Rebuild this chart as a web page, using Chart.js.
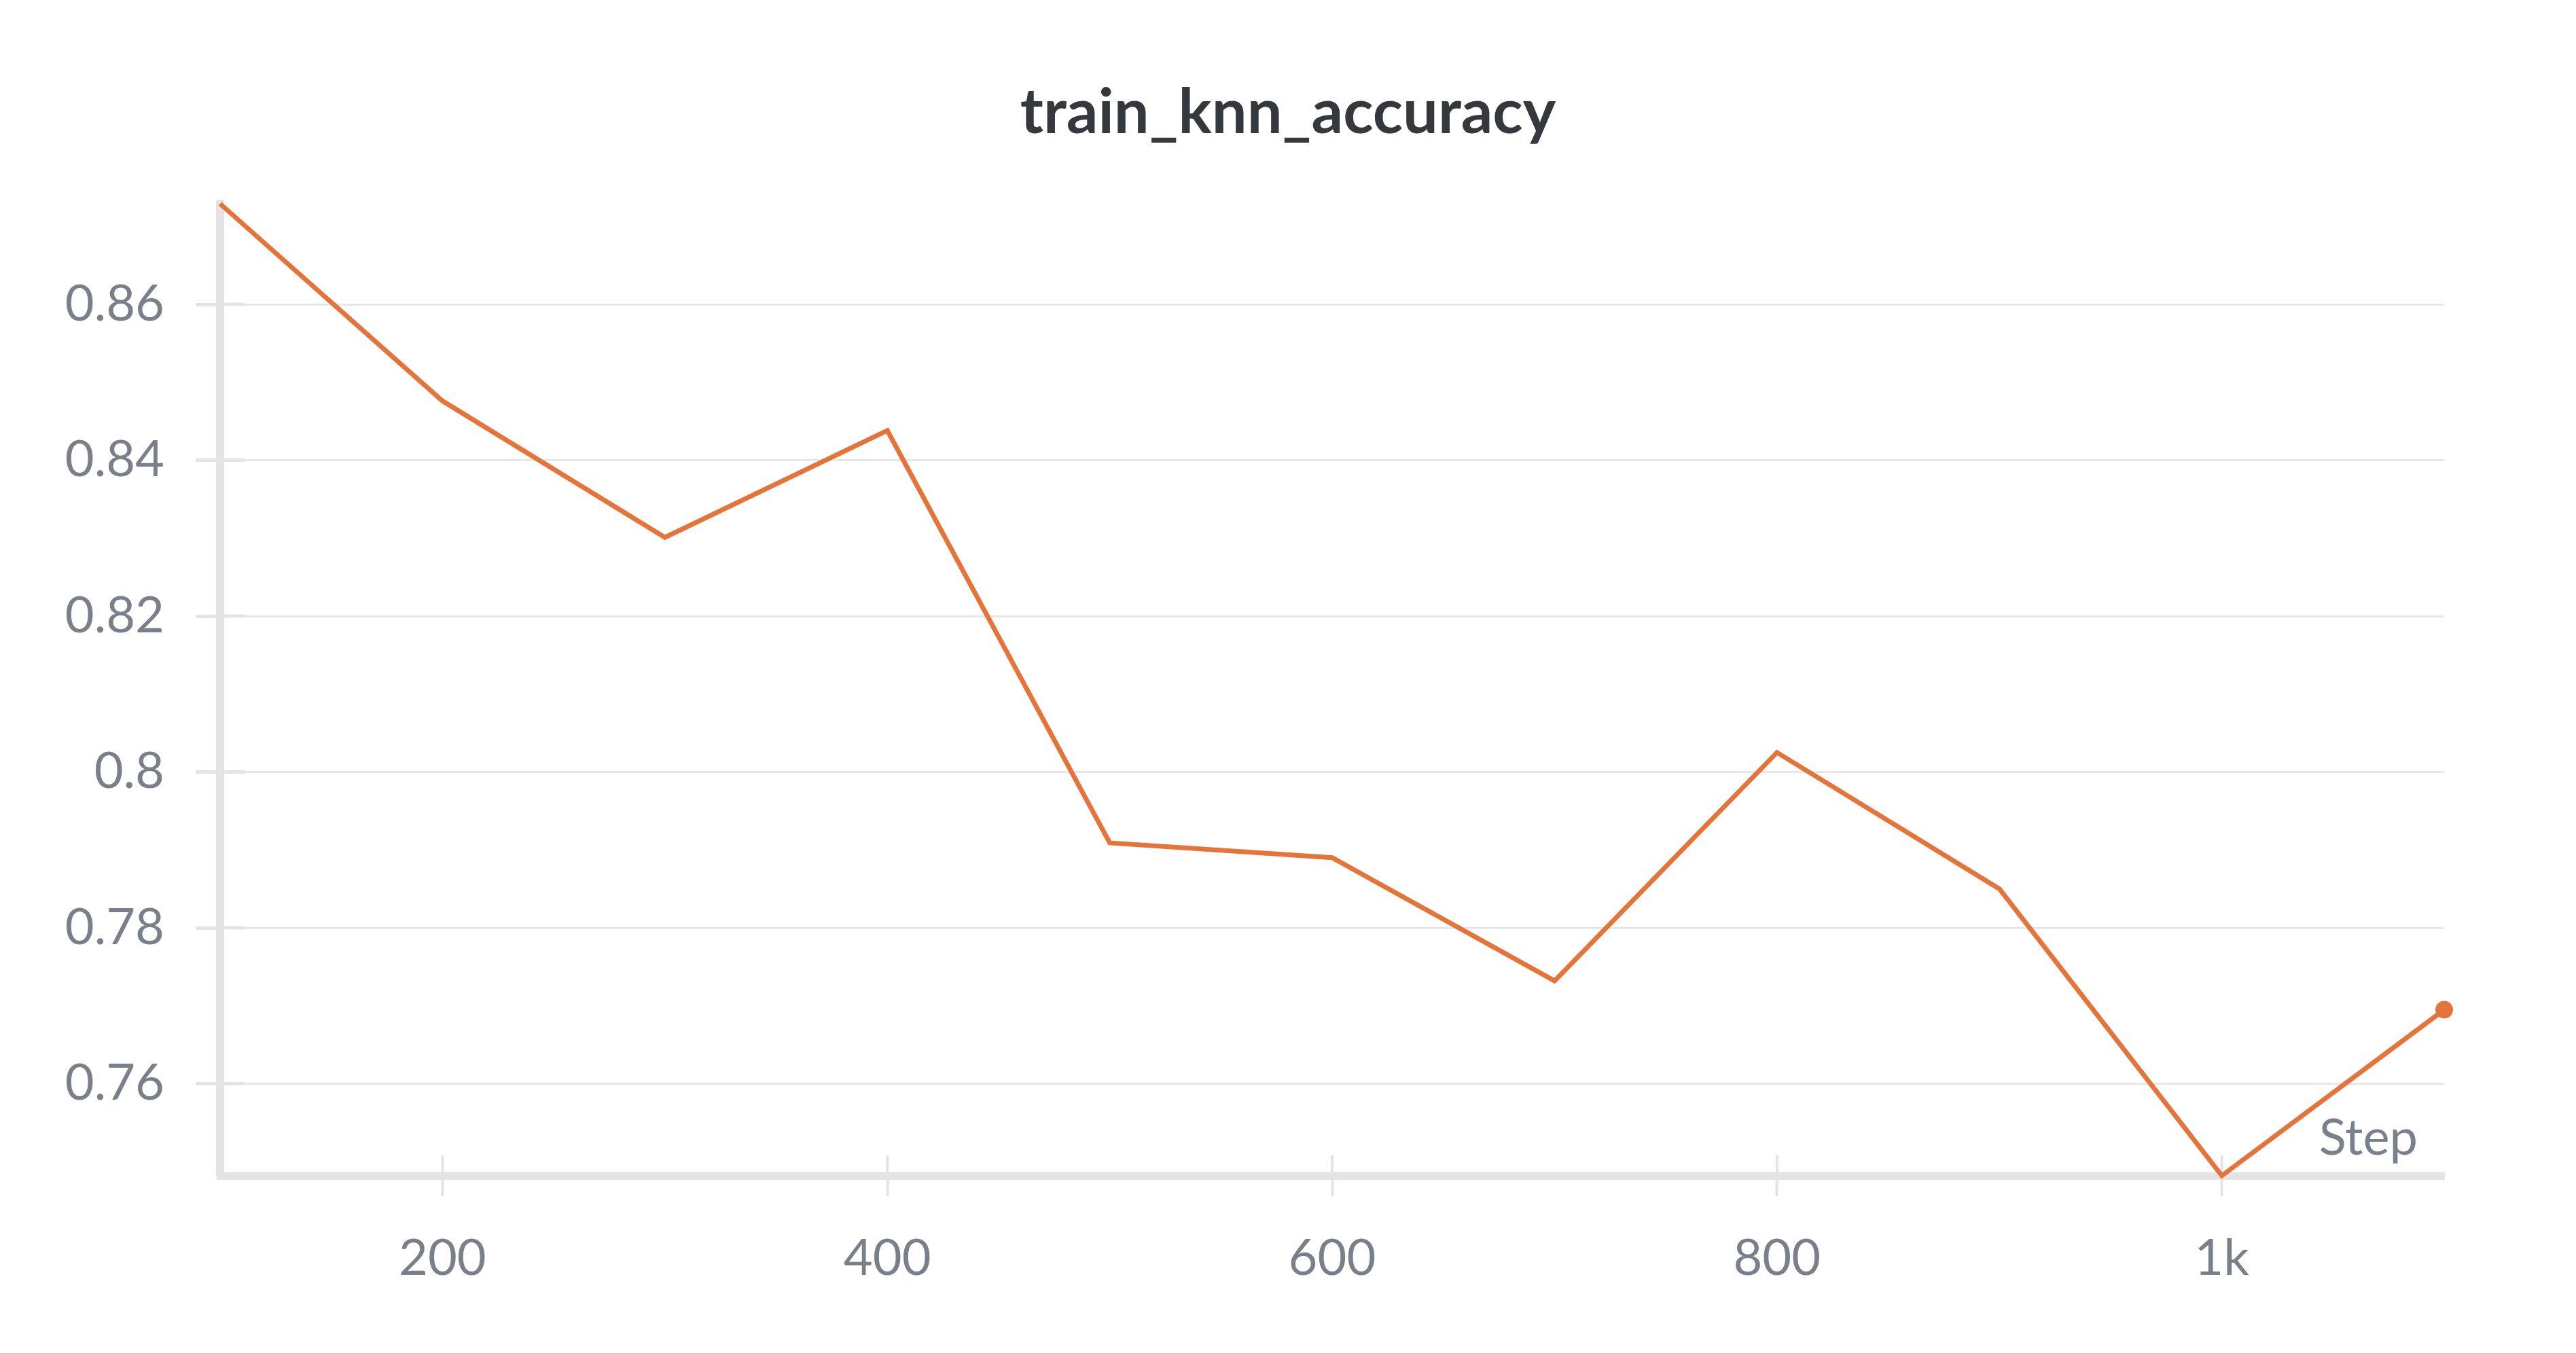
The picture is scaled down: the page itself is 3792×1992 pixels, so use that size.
<!DOCTYPE html>
<html lang="en">
<head>
<meta charset="UTF-8">
<title>train_knn_accuracy</title>
<script src="https://cdn.jsdelivr.net/npm/chart.js@4.4.1/dist/chart.umd.min.js"></script>
<style>
  html, body { margin: 0; padding: 0; background: #fff; }
  #wrap { width: 3792px; height: 1992px; position: relative; }
</style>
</head>
<body>
<div id="wrap"><canvas id="chart"></canvas></div>
<script>
// data
const steps = [100, 200, 300, 400, 500, 600, 700, 800, 900, 1000, 1100];
const accuracy = [0.8729, 0.8476, 0.8301, 0.8438, 0.7909, 0.7890, 0.7732, 0.8025, 0.7850, 0.7482, 0.7695];
const xTicks = [200, 400, 600, 800, 1000];
const xTickLabels = ['200', '400', '600', '800', '1k'];
const yTicks = [0.76, 0.78, 0.80, 0.82, 0.84, 0.86];
const yTickLabels = ['0.76', '0.78', '0.8', '0.82', '0.84', '0.86'];

const ORANGE = '#e4743a';
const AXIS = '#e4e4e7';
const GRID = '#e8e8ea';
const TEXT = '#7a808a';
const FONT = 'Lato';

// title, "Step" label and the inner half of the tick marks
const decor = {
  id: 'decor',
  beforeDatasetsDraw(chart) {
    const ctx = chart.ctx;
    const xs = chart.scales.x, ys = chart.scales.y;
    const area = chart.chartArea;
    ctx.save();
    ctx.strokeStyle = AXIS;
    ctx.lineWidth = 5;
    yTicks.forEach(v => {
      const py = ys.getPixelForValue(v);
      ctx.beginPath();
      ctx.moveTo(area.left, py);
      ctx.lineTo(area.left + 36, py);
      ctx.stroke();
    });
    ctx.lineWidth = 4;
    xTicks.forEach(v => {
      const px = xs.getPixelForValue(v);
      ctx.beginPath();
      ctx.moveTo(px, area.bottom);
      ctx.lineTo(px, area.bottom - 30);
      ctx.stroke();
    });
    ctx.restore();
  },
  afterDraw(chart) {
    const ctx = chart.ctx;
    const area = chart.chartArea;
    ctx.save();
    ctx.fillStyle = '#35383c';
    ctx.font = '700 92px ' + FONT;
    ctx.textAlign = 'center';
    ctx.textBaseline = 'alphabetic';
    ctx.fillText('train_knn_accuracy', chart.width / 2, 196);

    ctx.fillStyle = TEXT;
    ctx.font = '74px ' + FONT;
    ctx.textAlign = 'right';
    ctx.fillText('Step', area.right - 39, area.bottom - 31);
    ctx.restore();
  }
};

new Chart(document.getElementById('chart'), {
  type: 'line',
  data: {
    datasets: [{
      label: 'train_knn_accuracy',
      data: steps.map((s, i) => ({ x: s, y: accuracy[i] })),
      borderColor: ORANGE,
      backgroundColor: ORANGE,
      borderWidth: 7,
      pointRadius: steps.map((_, i) => i === steps.length - 1 ? 13 : 0),
      pointBorderWidth: 0,
      pointBackgroundColor: ORANGE,
      tension: 0,
      clip: false
    }]
  },
  options: {
    responsive: true,
    maintainAspectRatio: false,
    animation: false,
    devicePixelRatio: 1,
    layout: { padding: { top: 300, right: 194, bottom: 0, left: 0 } },
    plugins: {
      legend: { display: false },
      tooltip: { enabled: false },
      title: { display: false }
    },
    scales: {
      x: {
        type: 'linear',
        min: steps[0],
        max: steps[steps.length - 1],
        afterBuildTicks: s => { s.ticks = xTicks.map(v => ({ value: v })); },
        afterFit: s => { s.height = 261; },
        border: { display: true, color: AXIS, width: 11 },
        grid: { drawOnChartArea: false, drawTicks: true, tickLength: 30, tickWidth: 4, tickColor: AXIS },
        ticks: {
          autoSkip: false,
          maxRotation: 0,
          padding: 48,
          color: TEXT,
          font: { family: FONT, size: 74 },
          callback: (v, i) => xTickLabels[i]
        }
      },
      y: {
        type: 'linear',
        min: Math.min(...accuracy),
        max: Math.max(...accuracy),
        afterBuildTicks: s => { s.ticks = yTicks.map(v => ({ value: v })); },
        afterFit: s => { s.width = 324; },
        border: { display: true, color: AXIS, width: 12 },
        grid: { color: GRID, lineWidth: 3, drawTicks: true, tickLength: 36, tickWidth: 5, tickColor: AXIS },
        ticks: {
          autoSkip: false,
          padding: 46,
          color: TEXT,
          font: { family: FONT, size: 74 },
          callback: (v, i) => yTickLabels[i]
        }
      }
    }
  },
  plugins: [decor]
});
</script>
</body>
</html>
